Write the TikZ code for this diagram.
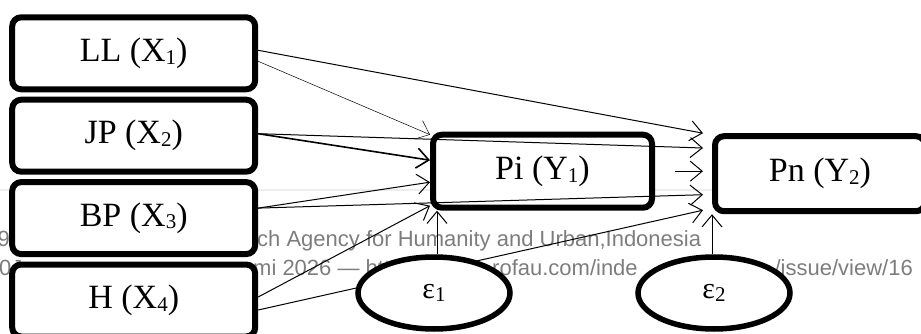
\documentclass[tikz,border=0pt]{standalone}
\usepackage{fontspec}
\setmainfont{Liberation Serif}
\newfontfamily\wmfont{Liberation Sans}
\usetikzlibrary{arrows.meta,shapes.geometric}
\definecolor{wmgray}{RGB}{125,125,125}
% small lowered index, as in X1
\newcommand{\idx}[1]{\raisebox{-0.08em}{\fontsize{21}{21}\selectfont #1}}
\tikzset{
  varbox/.style={draw, line width=6pt, rounded corners=9pt, fill=white, inner sep=0pt,
    minimum width=243pt, minimum height=72pt, font=\fontsize{34}{36}\selectfont},
  errnode/.style={draw, ellipse, line width=5.5pt, fill=white, inner sep=0pt,
    minimum width=152pt, minimum height=72pt, font=\fontsize{30}{33}\selectfont},
  link/.style={-{Straight Barb[length=12pt,width=20pt]}, line width=1pt},
  wm/.style={font=\wmfont\fontsize{22}{24}\selectfont, text=wmgray, inner sep=0pt}
}
\begin{document}
\begin{tikzpicture}[x=1pt,y=-1pt]
  \useasboundingbox (0,0) rectangle (921,334);
  % page text showing through behind the model
  \draw[black!7, line width=2pt] (0,190) -- (921,190);
  \node[wm, anchor=base east] (wa) at (10,246) {19};
  \node[wm, anchor=base west] (wb) at (257,246) {ch Agency for Humanity and Urban,Indonesia};
  \node[wm, anchor=base west] (wc) at (-1,275) {0J};
  \node[wm, anchor=base west] (wd) at (253,275) {mi 2026 — htt};
  \node[wm, anchor=base west] (we) at (492,275) {rofau.com/inde};
  \node[wm, anchor=base east] (wf) at (913,275) {/issue/view/16};
  % exogenous variables
  \foreach [count=\i] \lab in {LL,JP,BP,H} {
    \node[varbox] (x\i) at (133.7,{53.3+82.4*(\i-1)}) {\lab\ (X\idx{\i})};
  }
  \node[varbox, minimum width=219pt, minimum height=73pt] (y1) at (542.5,171.2) {Pi (Y\idx{1})\hspace{18pt}};
  \node[varbox, minimum width=210pt, minimum height=75pt] (y2) at (820,173.7) {Pn (Y\idx{2})};
  % paths
  \draw[link] ([yshift=3pt]x1.east) -- ([xshift=-9pt]y2.north west);
  \draw[link, line width=0.5pt] ([yshift=-8pt]x1.east) -- ([yshift=-3pt]y1.north west);
  \draw[link, line width=1.6pt] ([yshift=2pt]x2.east) -- ([yshift=11pt]y1.west);
  \draw[link] ([yshift=2pt]x2.east) -- ([xshift=-9pt,yshift=25.7pt]y2.west);
  \draw[link] ([yshift=10pt]x3.east) -- ([yshift=-11pt]y1.west);
  \draw[link] ([yshift=10pt]x3.east) -- ([xshift=-9pt,yshift=-21pt]y2.west);
  \draw[link] ([yshift=3.5pt]x4.east) -- ([yshift=5pt]y1.south west);
  \draw[link] ([yshift=-9.5pt]x4.east) -- ([xshift=-9pt,yshift=4pt]y2.south west);
  \draw[link, shorten <=20pt, shorten >=9pt] (y1.east) -- (y1.east -| y2.west);
  % error terms
  \node[errnode] (e1) at (434,293) {\raisebox{-8pt}{ε\idx{1}}};
  \node[errnode] (e2) at (714,293) {\raisebox{-8pt}{ε\idx{2}}};
  \draw[link] ([xshift=3pt]e1.north) -- ([xshift=3pt]e1.north |- y1.south);
  \draw[link] ([xshift=-2pt]e2.north) -- ([xshift=-2pt]e2.north |- y2.south);
\end{tikzpicture}
\end{document}
